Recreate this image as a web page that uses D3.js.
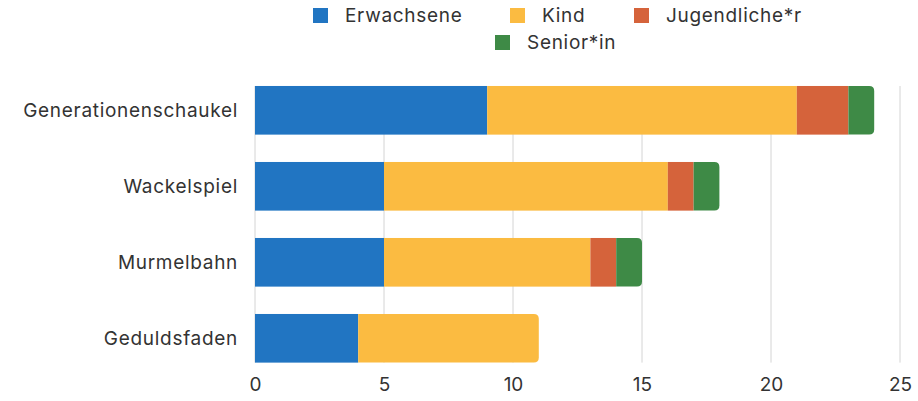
<!DOCTYPE html>
<html><head><meta charset="utf-8">
<script src="https://cdn.jsdelivr.net/npm/d3@7"></script>
<style>body{margin:0;background:#fff}svg{display:block;font-family:Inter, "Liberation Sans", sans-serif}</style>
</head><body>
<svg id="c" width="918" height="401"></svg>
<script>
const categories = ["Generationenschaukel","Wackelspiel","Murmelbahn","Geduldsfaden"];
const seriesNames = ["Erwachsene","Kind","Jugendliche*r","Senior*in"];
const erwachsene = [9,5,5,4];
const kind = [12,11,8,7];
const jugendliche = [2,1,1,0];
const senior = [1,1,1,0];
const ticks = [0,5,10,15,20,25];
const colors = ["#2175c2","#fbbb41","#d5633b","#3e8a46"];

const svg = d3.select("#c");
const x = d3.scaleLinear().domain([0,25]).range([255,900]);
const y = d3.scaleBand().domain(categories).range([72.3,376.3]).paddingInner(0.36).paddingOuter(0.18);

const rows = categories.map((c,i)=>({cat:c, vals:[erwachsene[i],kind[i],jugendliche[i],senior[i]]}));

// grid
const gTop = y(categories[0]), gBot = y(categories[3]) + y.bandwidth();
svg.append("g").selectAll("line").data(ticks).join("line")
  .attr("x1",d=>x(d)).attr("x2",d=>x(d)).attr("y1",gTop).attr("y2",gBot)
  .attr("stroke","#d4d4d4").attr("stroke-width",1);

// bars
const r = 5;
rows.forEach(row=>{
  let acc=0;
  const lastIdx = row.vals.reduce((l,v,i)=>v>0?i:l,-1);
  row.vals.forEach((v,i)=>{
    if(v<=0) return;
    const x0=x(acc), x1=x(acc+v), y0=y(row.cat), h=y.bandwidth();
    acc+=v;
    if(i===lastIdx){
      const p = `M${x0},${y0}H${x1-r}Q${x1},${y0} ${x1},${y0+r}V${y0+h-r}Q${x1},${y0+h} ${x1-r},${y0+h}H${x0}Z`;
      svg.append("path").attr("d",p).attr("fill",colors[i]);
    } else {
      svg.append("rect").attr("x",x0).attr("y",y0).attr("width",x1-x0).attr("height",h).attr("fill",colors[i]);
    }
  });
});

// y labels
svg.append("g").selectAll("text").data(categories).join("text")
  .attr("x",238).attr("y",d=>y(d)+y.bandwidth()/2).attr("dy","0.35em")
  .attr("text-anchor","end").attr("font-size",19).attr("letter-spacing","0.7px").attr("fill","#333").text(d=>d);

// x axis labels
const xa = svg.append("g").attr("transform",`translate(0,${gBot})`)
  .call(d3.axisBottom(x).tickValues(ticks).tickSize(0).tickPadding(15));
xa.select(".domain").remove();
xa.selectAll("text").attr("font-size",19).attr("fill","#333").attr("font-family","Inter, 'Liberation Sans', sans-serif");

// legend
const leg = [
  {n:seriesNames[0],c:colors[0],x:313,y:8},
  {n:seriesNames[1],c:colors[1],x:510,y:8},
  {n:seriesNames[2],c:colors[2],x:634,y:8},
  {n:seriesNames[3],c:colors[3],x:495,y:35}
];
const lg = svg.append("g").selectAll("g").data(leg).join("g").attr("transform",d=>`translate(${d.x},${d.y})`);
lg.append("rect").attr("width",15).attr("height",15).attr("fill",d=>d.c);
lg.append("text").attr("x",32).attr("y",7.5).attr("dy","0.35em").attr("font-size",19).attr("letter-spacing","0.7px").attr("fill","#333").text(d=>d.n);
</script>
</body></html>
